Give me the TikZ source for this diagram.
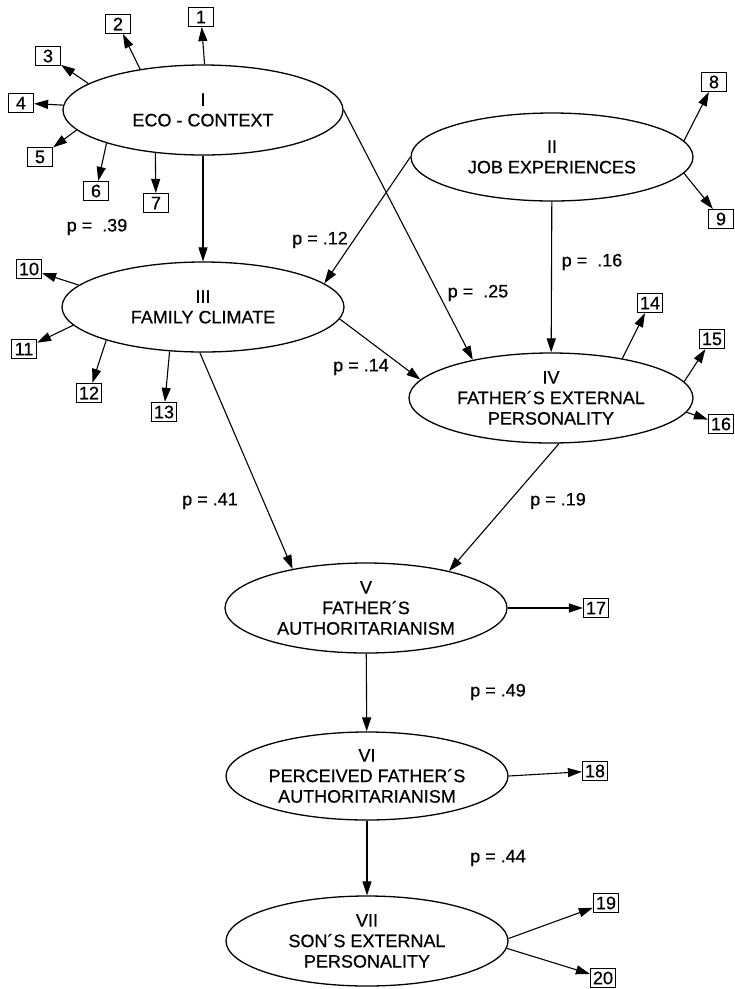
\documentclass[tikz,border=0pt]{standalone}
\usepackage{fontspec}
\setmainfont{Liberation Sans}[UprightFeatures={FakeBold=0.6}]
\usetikzlibrary{shapes.geometric,arrows.meta}
\begin{document}
\begin{tikzpicture}[x=1pt,y=-1pt,
  font=\fontsize{18}{20.5}\selectfont,
  latent/.style={ellipse,draw,line width=1.3pt,minimum width=282pt,minimum height=90pt,inner sep=0pt,align=center},
  indicator/.style={rectangle,draw,line width=1.2pt,minimum width=25pt,minimum height=19pt,inner sep=0pt},
  arr/.style={line width=1.1pt,-{Triangle[length=14pt,width=9pt]}},
  coef/.style={inner sep=0pt}]
\useasboundingbox (0,0) rectangle (735,989);
\fill[white] (0,0) rectangle (735,989);

% latent constructs
\node[latent,minimum width=280pt] (I)   at (203,110) {I\\ECO - CONTEXT};
\node[latent,minimum height=88pt] (II)  at (552,157) {II\\JOB EXPERIENCES};
\node[latent] (III) at (203,307) {III\\FAMILY CLIMATE};
\node[latent,minimum width=284pt] (IV)  at (551,398) {IV\\FATHER´S EXTERNAL\\PERSONALITY};
\node[latent] (V)   at (366,608) {V\\FATHER´S\\AUTHORITARIANISM};
\node[latent,minimum height=88pt] (VI)  at (367,776) {VI\\PERCEIVED FATHER´S\\AUTHORITARIANISM};
\node[latent] (VII) at (367,941) {VII\\SON´S EXTERNAL\\PERSONALITY};

% observed indicators
\node[indicator] (b1)  at (201,17)  {1};
\node[indicator] (b2)  at (118,24)  {2};
\node[indicator] (b3)  at (48,56)   {3};
\node[indicator] (b4)  at (21,103)  {4};
\node[indicator] (b5)  at (40,157)  {5};
\node[indicator] (b6)  at (96,191)  {6};
\node[indicator] (b7)  at (156,203) {7};
\node[indicator] (b8)  at (714,82)  {8};
\node[indicator] (b9)  at (721,219) {9};
\node[indicator] (b10) at (29,269)  {10};
\node[indicator] (b11) at (24,349)  {11};
\node[indicator] (b12) at (89,393)  {12};
\node[indicator] (b13) at (164,412) {13};
\node[indicator] (b14) at (650,303) {14};
\node[indicator] (b15) at (712,339) {15};
\node[indicator] (b16) at (721,424) {16};
\node[indicator] (b17) at (596,608) {17};
\node[indicator] (b18) at (595,771) {18};
\node[indicator] (b19) at (606,903) {19};
\node[indicator] (b20) at (603,978) {20};

% measurement arrows
\draw[arr] (I.88)    -- (b1);
\draw[arr] (I.147)   -- (b2);
\draw[arr] (I.167.5) -- (b3);
\draw[arr] (I.178)   -- (b4);
\draw[arr] (I.189)   -- (b5);
\draw[arr] (I.199)   -- (b6);
\draw[arr] (I.222.5) -- (b7);
\draw[arr] (II.7.4)  -- (b8);
\draw[arr] (II.353)  -- (b9);
\draw[arr] (III.170) -- (b10);
\draw[arr] (III.188) -- (b11);
\draw[arr] (III.199.5) -- (b12);
\draw[arr] (III.233) -- (b13);
\draw[arr] (IV.29)   -- (b14);
\draw[arr] (IV.7.7)  -- (b15);
\draw[arr] (IV.354)  -- (b16);
\draw[arr] (V.east)  -- (b17);
\draw[arr] (VI.east) -- (b18);
\draw[arr] (VII.1)   -- (b19);
\draw[arr] (VII.357.6) -- (b20);

% structural paths
\draw[arr] (I)       -- (III);
\draw[arr] (I.east)  -- (IV.154);
\draw[arr] (II.west) -- (III.11);
\draw[arr] (II)      -- (IV);
\draw[arr] (III.355.5) -- (IV.172.3);
\draw[arr] (III.266) -- (V.152.6);
\draw[arr] (IV.280.3) -- (V.24);
\draw[arr] (V)       -- (VI);
\draw[arr] (VI)      -- (VII);

% path coefficients
\node[coef] (p39) at (97,227)  {p = \ .39};
\node[coef] (p12) at (320,240) {p = .12};
\node[coef] (p25) at (478,293) {p = \ .25};
\node[coef] (p16) at (592,262) {p = \ .16};
\node[coef] (p14) at (361,367) {p = .14};
\node[coef] (p41) at (210,501) {p = .41};
\node[coef] (p19) at (558,501) {p = .19};
\node[coef] (p49) at (498,692) {p = .49};
\node[coef] (p44) at (498,858) {p = .44};
\end{tikzpicture}
\end{document}
